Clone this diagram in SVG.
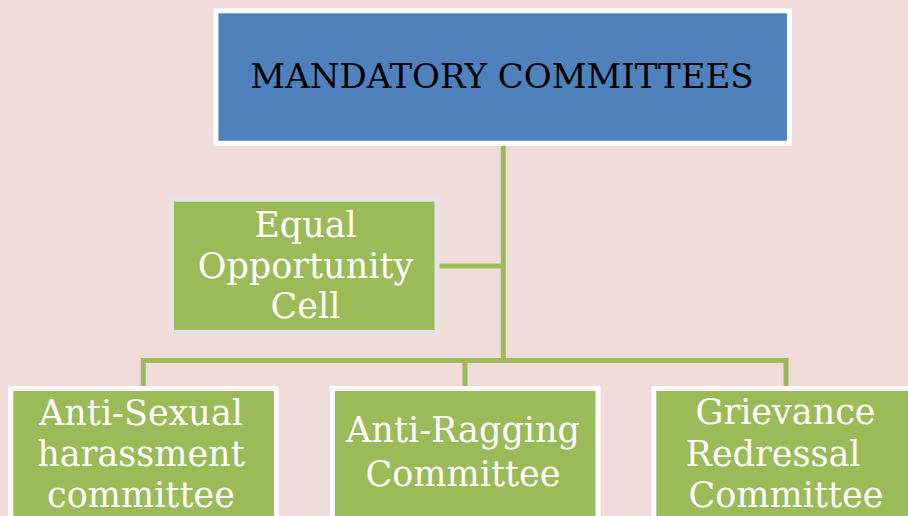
<svg xmlns="http://www.w3.org/2000/svg" width="908" height="516" viewBox="0 0 908 516">
  <style>
    .bg { fill: #F2DCDB; }
    .conn { stroke: #9BBB59; stroke-width: 5; fill: none; }
    .top { fill: #4F81BD; stroke: #FFFFFF; stroke-width: 5; }
    .green { fill: #9BBB59; stroke: #FFFFFF; stroke-width: 5; }
    .eoc { fill: #9BBB59; stroke: #E4E4E4; stroke-width: 5; }
    .t { font-family: "DejaVu Serif", "Liberation Serif", serif; text-anchor: middle; }
    .tb { fill: #000000; font-size: 34px; }
    .tw { fill: #FFFFFF; font-size: 35px; }
  </style>
  <rect class="bg" x="0" y="0" width="908" height="516"/>
  <g id="connectors">
    <line class="conn" x1="503.3" y1="145" x2="503.3" y2="362.5"/>
    <line class="conn" x1="439" y1="266" x2="503.3" y2="266"/>
    <polyline class="conn" points="143.3,386 143.3,360.5 786,360.5 786,386"/>
    <line class="conn" x1="465" y1="360.5" x2="465" y2="386"/>
  </g>
  <g id="mandatory">
    <rect class="top" x="215.9" y="10.8" width="573.6" height="132.5"/>
    <text class="t tb" x="502" y="88.3">MANDATORY COMMITTEES</text>
  </g>
  <g id="equal-opportunity">
    <rect class="eoc" x="171.5" y="199.2" width="265.5" height="133.3"/>
    <text class="t tw" x="305.5" y="236.7">Equal</text>
    <text class="t tw" x="305.5" y="278">Opportunity</text>
    <text class="t tw" x="305.5" y="318.3">Cell</text>
  </g>
  <g id="anti-sexual">
    <rect class="green" x="10.8" y="388.5" width="265.5" height="140"/>
    <text class="t tw" x="141" y="425.3">Anti-Sexual</text>
    <text class="t tw" x="141" y="466.3">harassment</text>
    <text class="t tw" x="141" y="507">committee</text>
  </g>
  <g id="anti-ragging">
    <rect class="green" x="332.5" y="388.5" width="265.5" height="140"/>
    <text class="t tw" x="463" y="442">Anti-Ragging</text>
    <text class="t tw" x="463" y="486">Committee</text>
  </g>
  <g id="grievance">
    <rect class="green" x="653.8" y="388.5" width="265.5" height="140"/>
    <text class="t tw" x="785.5" y="424.3">Grievance</text>
    <text class="t tw" x="773" y="466">Redressal</text>
    <text class="t tw" x="786" y="507">Committee</text>
  </g>
</svg>
